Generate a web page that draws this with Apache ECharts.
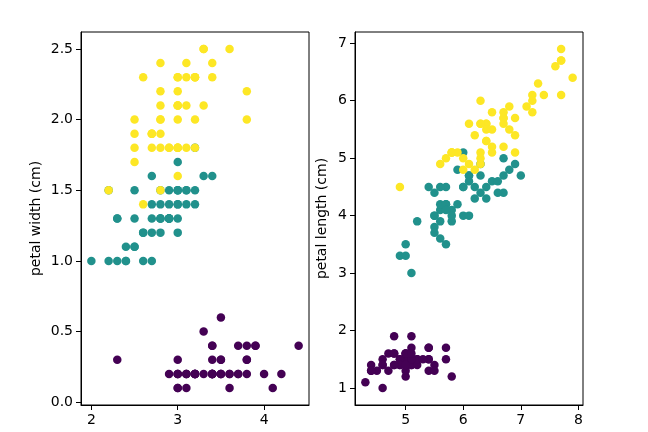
<!DOCTYPE html>
<html>
<head>
<meta charset="utf-8">
<script src="https://cdn.jsdelivr.net/npm/echarts@6/dist/echarts.min.js"></script>
<style>
  html, body { margin: 0; padding: 0; background: #fff; }
  #main { width: 648px; height: 432px; }
</style>
</head>
<body>
<div id="main"></div>
<script>
// iris data, one array per species and measurement
var setosaSepalLength = [5.1,4.9,4.7,4.6,5.0,5.4,4.6,5.0,4.4,4.9,5.4,4.8,4.8,4.3,5.8,5.7,5.4,5.1,5.7,5.1,5.4,5.1,4.6,5.1,4.8,5.0,5.0,5.2,5.2,4.7,4.8,5.4,5.2,5.5,4.9,5.0,5.5,4.9,4.4,5.1,5.0,4.5,4.4,5.0,5.1,4.8,5.1,4.6,5.3,5.0];
var setosaSepalWidth = [3.5,3.0,3.2,3.1,3.6,3.9,3.4,3.4,2.9,3.1,3.7,3.4,3.0,3.0,4.0,4.4,3.9,3.5,3.8,3.8,3.4,3.7,3.6,3.3,3.4,3.0,3.4,3.5,3.4,3.2,3.1,3.4,4.1,4.2,3.1,3.2,3.5,3.6,3.0,3.4,3.5,2.3,3.2,3.5,3.8,3.0,3.8,3.2,3.7,3.3];
var setosaPetalLength = [1.4,1.4,1.3,1.5,1.4,1.7,1.4,1.5,1.4,1.5,1.5,1.6,1.4,1.1,1.2,1.5,1.3,1.4,1.7,1.5,1.7,1.5,1.0,1.7,1.9,1.6,1.6,1.5,1.4,1.6,1.6,1.5,1.5,1.4,1.5,1.2,1.3,1.4,1.3,1.5,1.3,1.3,1.3,1.6,1.9,1.4,1.6,1.4,1.5,1.4];
var setosaPetalWidth = [0.2,0.2,0.2,0.2,0.2,0.4,0.3,0.2,0.2,0.1,0.2,0.2,0.1,0.1,0.2,0.4,0.4,0.3,0.3,0.3,0.2,0.4,0.2,0.5,0.2,0.2,0.4,0.2,0.2,0.2,0.2,0.4,0.1,0.2,0.2,0.2,0.2,0.1,0.2,0.2,0.3,0.3,0.2,0.6,0.4,0.3,0.2,0.2,0.2,0.2];

var versicolorSepalLength = [7.0,6.4,6.9,5.5,6.5,5.7,6.3,4.9,6.6,5.2,5.0,5.9,6.0,6.1,5.6,6.7,5.6,5.8,6.2,5.6,5.9,6.1,6.3,6.1,6.4,6.6,6.8,6.7,6.0,5.7,5.5,5.5,5.8,6.0,5.4,6.0,6.7,6.3,5.6,5.5,5.5,6.1,5.8,5.0,5.6,5.7,5.7,6.2,5.1,5.7];
var versicolorSepalWidth = [3.2,3.2,3.1,2.3,2.8,2.8,3.3,2.4,2.9,2.7,2.0,3.0,2.2,2.9,2.9,3.1,3.0,2.7,2.2,2.5,3.2,2.8,2.5,2.8,2.9,3.0,2.8,3.0,2.9,2.6,2.4,2.4,2.7,2.7,3.0,3.4,3.1,2.3,3.0,2.5,2.6,3.0,2.6,2.3,2.7,3.0,2.9,2.9,2.5,2.8];
var versicolorPetalLength = [4.7,4.5,4.9,4.0,4.6,4.5,4.7,3.3,4.6,3.9,3.5,4.2,4.0,4.7,3.6,4.4,4.5,4.1,4.5,3.9,4.8,4.0,4.9,4.7,4.3,4.4,4.8,5.0,4.5,3.5,3.8,3.7,3.9,5.1,4.5,4.5,4.7,4.4,4.1,4.0,4.4,4.6,4.0,3.3,4.2,4.2,4.2,4.3,3.0,4.1];
var versicolorPetalWidth = [1.4,1.5,1.5,1.3,1.5,1.3,1.6,1.0,1.3,1.4,1.0,1.5,1.0,1.4,1.3,1.4,1.5,1.0,1.5,1.1,1.8,1.3,1.5,1.2,1.3,1.4,1.4,1.7,1.5,1.0,1.1,1.0,1.2,1.6,1.5,1.6,1.5,1.3,1.3,1.3,1.2,1.4,1.2,1.0,1.3,1.2,1.3,1.3,1.1,1.3];

var virginicaSepalLength = [6.3,5.8,7.1,6.3,6.5,7.6,4.9,7.3,6.7,7.2,6.5,6.4,6.8,5.7,5.8,6.4,6.5,7.7,7.7,6.0,6.9,5.6,7.7,6.3,6.7,7.2,6.2,6.1,6.4,7.2,7.4,7.9,6.4,6.3,6.1,7.7,6.3,6.4,6.0,6.9,6.7,6.9,5.8,6.8,6.7,6.7,6.3,6.5,6.2,5.9];
var virginicaSepalWidth = [3.3,2.7,3.0,2.9,3.0,3.0,2.5,2.9,2.5,3.6,3.2,2.7,3.0,2.5,2.8,3.2,3.0,3.8,2.6,2.2,3.2,2.8,2.8,2.7,3.3,3.2,2.8,3.0,2.8,3.0,2.8,3.8,2.8,2.8,2.6,3.0,3.4,3.1,3.0,3.1,3.1,3.1,2.7,3.2,3.3,3.0,2.5,3.0,3.4,3.0];
var virginicaPetalLength = [6.0,5.1,5.9,5.6,5.8,6.6,4.5,6.3,5.8,6.1,5.1,5.3,5.5,5.0,5.1,5.3,5.5,6.7,6.9,5.0,5.7,4.9,6.7,4.9,5.7,6.0,4.8,4.9,5.6,5.8,6.1,6.4,5.6,5.1,5.6,6.1,5.6,5.5,4.8,5.4,5.6,5.1,5.1,5.9,5.7,5.2,5.0,5.2,5.4,5.1];
var virginicaPetalWidth = [2.5,1.9,2.1,1.8,2.2,2.1,1.7,1.8,1.8,2.5,2.0,1.9,2.1,2.0,2.4,2.3,1.8,2.2,2.3,1.5,2.3,2.0,2.0,1.8,2.1,1.8,1.8,1.8,2.1,1.6,1.9,2.0,2.2,1.5,1.4,2.3,2.4,1.8,1.8,2.1,2.4,2.3,1.9,2.3,2.5,2.3,1.9,2.0,2.3,1.8];

// tick labels
var leftXTicks = [2, 3, 4];
var leftYTicks = [0.0, 0.5, 1.0, 1.5, 2.0, 2.5];
var rightXTicks = [5, 6, 7, 8];
var rightYTicks = [1, 2, 3, 4, 5, 6, 7];

var speciesColors = ['#440154', '#21918c', '#fde725'];

function zip(a, b) {
  return a.map(function (v, i) { return [v, b[i]]; });
}

var fontFamily = 'DejaVu Sans';

function makeAxis(idx, min, max, ticks, fmt, name, isY) {
  var ax = {
    type: 'value',
    gridIndex: idx,
    min: min,
    max: max,
    splitLine: { show: false },
    axisLine: { show: true, onZero: false, lineStyle: { color: '#000', width: 1 } },
    axisTick: {
      show: true,
      length: 5,
      customValues: ticks,
      lineStyle: { color: '#000', width: 1 }
    },
    axisLabel: {
      customValues: ticks,
      color: '#000',
      fontSize: 14,
      fontFamily: fontFamily,
      margin: 8,
      formatter: fmt
    }
  };
  if (name) {
    ax.name = name;
    ax.nameLocation = 'middle';
    ax.nameRotate = 90;
    ax.nameGap = isY;
    ax.nameTextStyle = { color: '#000', fontSize: 14, fontFamily: fontFamily };
  }
  return ax;
}

var myChart = echarts.init(document.getElementById('main'), null, { renderer: 'canvas' });

var option = {
  backgroundColor: '#fff',
  animation: false,
  grid: [
    { left: 81, right: 339, top: 32, bottom: 27, show: true, borderColor: '#000', borderWidth: 1 },
    { left: 355, right: 65, top: 32, bottom: 27, show: true, borderColor: '#000', borderWidth: 1 }
  ],
  xAxis: [
    makeAxis(0, 1.88, 4.52, leftXTicks, function (v) { return String(v); }),
    makeAxis(1, 4.12, 8.08, rightXTicks, function (v) { return String(v); })
  ],
  yAxis: [
    makeAxis(0, -0.02, 2.62, leftYTicks, function (v) { return v.toFixed(1); }, 'petal width (cm)', 38),
    makeAxis(1, 0.705, 7.195, rightYTicks, function (v) { return String(v); }, 'petal length (cm)', 26)
  ],
  series: []
};

var leftSets = [
  zip(setosaSepalWidth, setosaPetalWidth),
  zip(versicolorSepalWidth, versicolorPetalWidth),
  zip(virginicaSepalWidth, virginicaPetalWidth)
];
var rightSets = [
  zip(setosaSepalLength, setosaPetalLength),
  zip(versicolorSepalLength, versicolorPetalLength),
  zip(virginicaSepalLength, virginicaPetalLength)
];

[leftSets, rightSets].forEach(function (sets, g) {
  sets.forEach(function (data, s) {
    option.series.push({
      type: 'scatter',
      xAxisIndex: g,
      yAxisIndex: g,
      symbolSize: 8.5,
      data: data,
      itemStyle: { color: speciesColors[s], opacity: 1 }
    });
  });
});

myChart.setOption(option);
</script>
</body>
</html>
